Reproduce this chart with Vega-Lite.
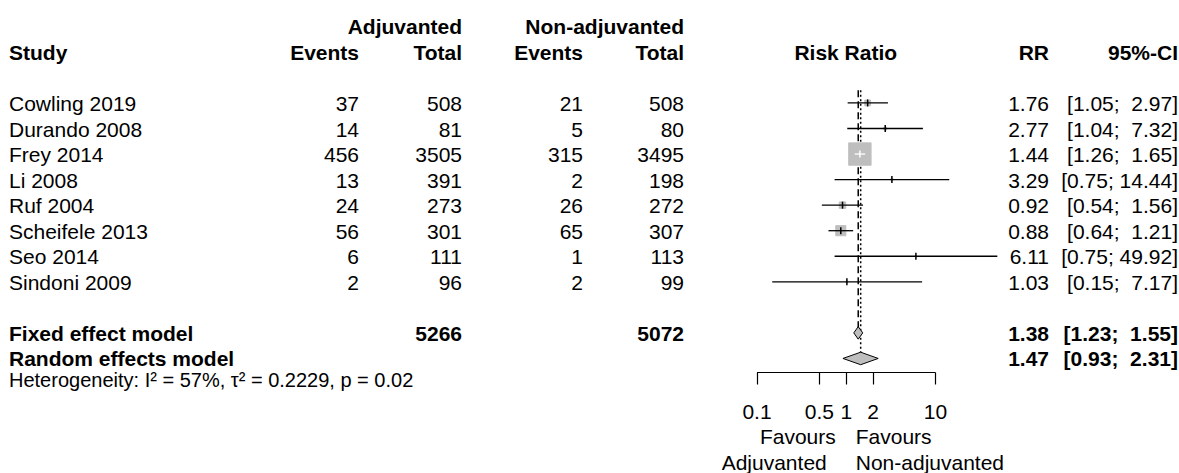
{
  "$schema": "https://vega.github.io/schema/vega-lite/v6.json",
  "width": 1179,
  "height": 372,
  "padding": 0,
  "background": "white",
  "config": {"view": {"stroke": null}, "font": "Liberation Sans", "text": {"fontSize": 21, "color": "black"}},
  "datasets": {
    "cells": [
      {"row": 0, "col": 3, "label": "Adjuvanted", "bold": true},
      {"row": 0, "col": 5, "label": "Non-adjuvanted", "bold": true},
      {"row": 1, "col": 1, "label": "Study", "bold": true},
      {"row": 1, "col": 2, "label": "Events", "bold": true},
      {"row": 1, "col": 3, "label": "Total", "bold": true},
      {"row": 1, "col": 4, "label": "Events", "bold": true},
      {"row": 1, "col": 5, "label": "Total", "bold": true},
      {"row": 1, "col": 6, "label": "Risk Ratio", "bold": true},
      {"row": 1, "col": 7, "label": "RR", "bold": true},
      {"row": 1, "col": 8, "label": "95%-CI", "bold": true},
      {"row": 3, "col": 1, "label": "Cowling 2019", "bold": false},
      {"row": 3, "col": 2, "label": "37", "bold": false},
      {"row": 3, "col": 3, "label": "508", "bold": false},
      {"row": 3, "col": 4, "label": "21", "bold": false},
      {"row": 3, "col": 5, "label": "508", "bold": false},
      {"row": 3, "col": 7, "label": "1.76", "bold": false},
      {"row": 3, "col": 8, "label": "[1.05; \u00a02.97]", "bold": false},
      {"row": 4, "col": 1, "label": "Durando 2008", "bold": false},
      {"row": 4, "col": 2, "label": "14", "bold": false},
      {"row": 4, "col": 3, "label": "81", "bold": false},
      {"row": 4, "col": 4, "label": "5", "bold": false},
      {"row": 4, "col": 5, "label": "80", "bold": false},
      {"row": 4, "col": 7, "label": "2.77", "bold": false},
      {"row": 4, "col": 8, "label": "[1.04; \u00a07.32]", "bold": false},
      {"row": 5, "col": 1, "label": "Frey 2014", "bold": false},
      {"row": 5, "col": 2, "label": "456", "bold": false},
      {"row": 5, "col": 3, "label": "3505", "bold": false},
      {"row": 5, "col": 4, "label": "315", "bold": false},
      {"row": 5, "col": 5, "label": "3495", "bold": false},
      {"row": 5, "col": 7, "label": "1.44", "bold": false},
      {"row": 5, "col": 8, "label": "[1.26; \u00a01.65]", "bold": false},
      {"row": 6, "col": 1, "label": "Li 2008", "bold": false},
      {"row": 6, "col": 2, "label": "13", "bold": false},
      {"row": 6, "col": 3, "label": "391", "bold": false},
      {"row": 6, "col": 4, "label": "2", "bold": false},
      {"row": 6, "col": 5, "label": "198", "bold": false},
      {"row": 6, "col": 7, "label": "3.29", "bold": false},
      {"row": 6, "col": 8, "label": "[0.75; 14.44]", "bold": false},
      {"row": 7, "col": 1, "label": "Ruf 2004", "bold": false},
      {"row": 7, "col": 2, "label": "24", "bold": false},
      {"row": 7, "col": 3, "label": "273", "bold": false},
      {"row": 7, "col": 4, "label": "26", "bold": false},
      {"row": 7, "col": 5, "label": "272", "bold": false},
      {"row": 7, "col": 7, "label": "0.92", "bold": false},
      {"row": 7, "col": 8, "label": "[0.54; \u00a01.56]", "bold": false},
      {"row": 8, "col": 1, "label": "Scheifele 2013", "bold": false},
      {"row": 8, "col": 2, "label": "56", "bold": false},
      {"row": 8, "col": 3, "label": "301", "bold": false},
      {"row": 8, "col": 4, "label": "65", "bold": false},
      {"row": 8, "col": 5, "label": "307", "bold": false},
      {"row": 8, "col": 7, "label": "0.88", "bold": false},
      {"row": 8, "col": 8, "label": "[0.64; \u00a01.21]", "bold": false},
      {"row": 9, "col": 1, "label": "Seo 2014", "bold": false},
      {"row": 9, "col": 2, "label": "6", "bold": false},
      {"row": 9, "col": 3, "label": "111", "bold": false},
      {"row": 9, "col": 4, "label": "1", "bold": false},
      {"row": 9, "col": 5, "label": "113", "bold": false},
      {"row": 9, "col": 7, "label": "6.11", "bold": false},
      {"row": 9, "col": 8, "label": "[0.75; 49.92]", "bold": false},
      {"row": 10, "col": 1, "label": "Sindoni 2009", "bold": false},
      {"row": 10, "col": 2, "label": "2", "bold": false},
      {"row": 10, "col": 3, "label": "96", "bold": false},
      {"row": 10, "col": 4, "label": "2", "bold": false},
      {"row": 10, "col": 5, "label": "99", "bold": false},
      {"row": 10, "col": 7, "label": "1.03", "bold": false},
      {"row": 10, "col": 8, "label": "[0.15; \u00a07.17]", "bold": false},
      {"row": 12, "col": 1, "label": "Fixed effect model", "bold": true},
      {"row": 12, "col": 3, "label": "5266", "bold": true},
      {"row": 12, "col": 5, "label": "5072", "bold": true},
      {"row": 12, "col": 7, "label": "1.38", "bold": true},
      {"row": 12, "col": 8, "label": "[1.23; \u00a01.55]", "bold": true},
      {"row": 13, "col": 1, "label": "Random effects model", "bold": true},
      {"row": 13, "col": 7, "label": "1.47", "bold": true},
      {"row": 13, "col": 8, "label": "[0.93; \u00a02.31]", "bold": true},
      {"row": 14, "col": 1, "label": "Heterogeneity: I\u00b2 = 57%, \u03c4\u00b2 = 0.2229, p = 0.02", "bold": false}
    ],
    "studies": [
      {"study": "Cowling 2019", "row": 3, "rr": 1.76, "lo": 1.05, "hi": 2.97, "w": 4.8},
      {"study": "Durando 2008", "row": 4, "rr": 2.77, "lo": 1.04, "hi": 7.32, "w": 1.15},
      {"study": "Frey 2014", "row": 5, "rr": 1.44, "lo": 1.26, "hi": 1.65, "w": 72.1},
      {"study": "Li 2008", "row": 6, "rr": 3.29, "lo": 0.75, "hi": 14.44, "w": 0.61},
      {"study": "Ruf 2004", "row": 7, "rr": 0.92, "lo": 0.54, "hi": 1.56, "w": 5.95},
      {"study": "Scheifele 2013", "row": 8, "rr": 0.88, "lo": 0.64, "hi": 1.21, "w": 14.71},
      {"study": "Seo 2014", "row": 9, "rr": 6.11, "lo": 0.75, "hi": 49.92, "w": 0.23},
      {"study": "Sindoni 2009", "row": 10, "rr": 1.03, "lo": 0.15, "hi": 7.17, "w": 0.45}
    ],
    "pooled": [
      {"model": "Fixed effect model", "row": 12, "rr": 1.38, "lo": 1.23, "hi": 1.55},
      {"model": "Random effects model", "row": 13, "rr": 1.47, "lo": 0.93, "hi": 2.31}
    ],
    "reference": [{"value": 1}],
    "favours": [
      {"side": "left", "line": 1, "label": "Favours", "row": 16, "value": 1},
      {"side": "left", "line": 2, "label": "Adjuvanted", "row": 17, "value": 1},
      {"side": "right", "line": 1, "label": "Favours", "row": 16, "value": 1},
      {"side": "right", "line": 2, "label": "Non-adjuvanted", "row": 17, "value": 1}
    ]
  },
  "encoding": {
    "y": {"field": "row", "type": "quantitative", "scale": {"domain": [-1.02935, 13.5303], "reverse": true, "nice": false, "zero": false}, "axis": null}
  },
  "layer": [
    {
      "data": {"name": "reference"},
      "mark": {"type": "rule", "color": "black", "strokeWidth": 1.3},
      "encoding": {
        "x": {"field": "value", "type": "quantitative", "scale": {"type": "log", "domain": [0.1, 10], "range": [756.5, 935], "nice": false},
          "axis": {"orient": "bottom", "values": [0.1, 0.5, 1, 2, 10], "format": "~g", "title": null, "grid": false, "domain": true, "ticks": true, "labels": true, "domainColor": "black", "domainWidth": 1.2, "tickColor": "black", "tickWidth": 1.2, "tickSize": 12, "labelFontSize": 21, "labelColor": "black", "labelPadding": 17, "labelFlush": false, "labelOverlap": false, "labelFont": "Liberation Sans"}},
        "y": {"datum": 2.5, "type": "quantitative", "axis": null},
        "y2": {"value": "height"}
      }
    },
    {
      "data": {"name": "pooled"},
      "mark": {"type": "rule", "color": "black", "strokeWidth": 1.5},
      "encoding": {
        "x": {"field": "rr", "type": "quantitative", "scale": {"type": "log", "domain": [0.1, 10], "range": [756.5, 935], "nice": false}, "axis": null},
        "y": {"datum": 2.5, "type": "quantitative", "axis": null},
        "y2": {"field": "row"},
        "strokeDash": {"field": "model", "type": "nominal", "scale": {"domain": ["Fixed effect model", "Random effects model"], "range": [[7, 4], [2, 2.5]]}, "legend": null}
      }
    },
    {
      "data": {"name": "studies"},
      "mark": {"type": "point", "shape": "square", "filled": true, "color": "#bebebe", "stroke": "#bebebe", "strokeWidth": 1, "opacity": 1},
      "encoding": {
        "x": {"field": "rr", "type": "quantitative", "scale": {"type": "log", "domain": [0.1, 10], "range": [756.5, 935], "nice": false}, "axis": null},
        "size": {"field": "w", "type": "quantitative", "scale": {"domain": [0, 72.1], "range": [0, 500]}, "legend": null}
      }
    },
    {
      "data": {"name": "studies"},
      "mark": {"type": "rule", "strokeWidth": 1.3},
      "encoding": {
        "x": {"field": "lo", "type": "quantitative", "scale": {"type": "log", "domain": [0.1, 10], "range": [756.5, 935], "nice": false}, "axis": null},
        "x2": {"field": "hi"},
        "color": {"condition": {"test": "datum.w > 50", "value": "white"}, "value": "black"}
      }
    },
    {
      "data": {"name": "studies"},
      "mark": {"type": "tick", "orient": "vertical", "size": 7, "thickness": 1.5, "opacity": 1},
      "encoding": {
        "x": {"field": "rr", "type": "quantitative", "scale": {"type": "log", "domain": [0.1, 10], "range": [756.5, 935], "nice": false}, "axis": null},
        "color": {"condition": {"test": "datum.w > 50", "value": "white"}, "value": "black"}
      }
    },
    {
      "data": {"name": "pooled"},
      "transform": [
        {"fold": ["lo", "rr", "hi"], "as": ["k", "v"]},
        {"calculate": "datum.row - (datum.k === 'rr' ? 0.245 : 0)", "as": "ytop"},
        {"calculate": "datum.row + (datum.k === 'rr' ? 0.245 : 0)", "as": "ybot"}
      ],
      "mark": {"type": "area", "orient": "vertical", "color": "#bebebe", "stroke": "black", "strokeWidth": 1, "opacity": 1},
      "encoding": {
        "x": {"field": "v", "type": "quantitative", "scale": {"type": "log", "domain": [0.1, 10], "range": [756.5, 935], "nice": false}, "axis": null},
        "y": {"field": "ytop", "type": "quantitative", "axis": null},
        "y2": {"field": "ybot"},
        "detail": {"field": "model"}
      }
    },
    {
      "data": {"name": "favours"},
      "transform": [{"filter": "datum.side == 'left' && datum.line == 1"}],
      "mark": {"type": "text", "align": "right", "dx": -10, "dy": 3, "fontSize": 21},
      "encoding": {
        "x": {"field": "value", "type": "quantitative", "scale": {"type": "log", "domain": [0.1, 10], "range": [756.5, 935], "nice": false}, "axis": null},
        "text": {"field": "label"}
      }
    },
    {
      "data": {"name": "favours"},
      "transform": [{"filter": "datum.side == 'left' && datum.line == 2"}],
      "mark": {"type": "text", "align": "right", "dx": -19, "dy": 3, "fontSize": 21},
      "encoding": {
        "x": {"field": "value", "type": "quantitative", "scale": {"type": "log", "domain": [0.1, 10], "range": [756.5, 935], "nice": false}, "axis": null},
        "text": {"field": "label"}
      }
    },
    {
      "data": {"name": "favours"},
      "transform": [{"filter": "datum.side == 'right'"}],
      "mark": {"type": "text", "align": "left", "dx": 10, "dy": 3, "fontSize": 21},
      "encoding": {
        "x": {"field": "value", "type": "quantitative", "scale": {"type": "log", "domain": [0.1, 10], "range": [756.5, 935], "nice": false}, "axis": null},
        "text": {"field": "label"}
      }
    },
    {
      "data": {"name": "cells"},
      "transform": [{"filter": "datum.col == 1 && !datum.bold && datum.row < 14"}],
      "mark": {"type": "text", "align": "left", "dy": 2},
      "encoding": {
        "x": {"field": "col", "type": "quantitative", "scale": {"type": "linear", "domain": [1, 2, 3, 4, 5, 6, 7, 8], "range": [9, 359, 462, 583, 684, 845.75, 1049, 1178], "nice": false, "zero": false}, "axis": null},
        "text": {"field": "label"}
      }
    },
    {
      "data": {"name": "cells"},
      "transform": [{"filter": "datum.col == 1 && datum.bold"}],
      "mark": {"type": "text", "align": "left", "dy": 2, "fontWeight": "bold"},
      "encoding": {
        "x": {"field": "col", "type": "quantitative", "scale": {"type": "linear", "domain": [1, 2, 3, 4, 5, 6, 7, 8], "range": [9, 359, 462, 583, 684, 845.75, 1049, 1178], "nice": false, "zero": false}, "axis": null},
        "text": {"field": "label"}
      }
    },
    {
      "data": {"name": "cells"},
      "transform": [{"filter": "datum.col > 1 && datum.col != 6 && !datum.bold"}],
      "mark": {"type": "text", "align": "right", "dy": 2},
      "encoding": {
        "x": {"field": "col", "type": "quantitative", "scale": {"type": "linear", "domain": [1, 2, 3, 4, 5, 6, 7, 8], "range": [9, 359, 462, 583, 684, 845.75, 1049, 1178], "nice": false, "zero": false}, "axis": null},
        "text": {"field": "label"}
      }
    },
    {
      "data": {"name": "cells"},
      "transform": [{"filter": "datum.col > 1 && datum.col != 6 && datum.bold"}],
      "mark": {"type": "text", "align": "right", "dy": 2, "fontWeight": "bold"},
      "encoding": {
        "x": {"field": "col", "type": "quantitative", "scale": {"type": "linear", "domain": [1, 2, 3, 4, 5, 6, 7, 8], "range": [9, 359, 462, 583, 684, 845.75, 1049, 1178], "nice": false, "zero": false}, "axis": null},
        "text": {"field": "label"}
      }
    },
    {
      "data": {"name": "cells"},
      "transform": [{"filter": "datum.col == 6"}],
      "mark": {"type": "text", "align": "center", "dy": 2, "fontWeight": "bold"},
      "encoding": {
        "x": {"field": "col", "type": "quantitative", "scale": {"type": "linear", "domain": [1, 2, 3, 4, 5, 6, 7, 8], "range": [9, 359, 462, 583, 684, 845.75, 1049, 1178], "nice": false, "zero": false}, "axis": null},
        "text": {"field": "label"}
      }
    },
    {
      "data": {"name": "cells"},
      "transform": [{"filter": "datum.row == 14"}],
      "mark": {"type": "text", "align": "left", "dy": -3, "fontSize": 20},
      "encoding": {
        "x": {"field": "col", "type": "quantitative", "scale": {"type": "linear", "domain": [1, 2, 3, 4, 5, 6, 7, 8], "range": [9, 359, 462, 583, 684, 845.75, 1049, 1178], "nice": false, "zero": false}, "axis": null},
        "text": {"field": "label"}
      }
    }
  ],
  "resolve": {"scale": {"x": "independent"}}
}
